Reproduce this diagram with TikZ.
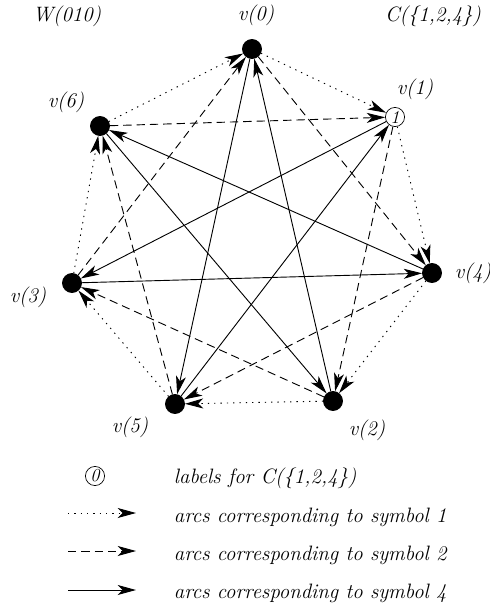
\documentclass[tikz,border=0pt]{standalone}
\usetikzlibrary{arrows.meta}
\begin{document}
\begin{tikzpicture}[x=0.6pt,y=-0.6pt]
\tikzstyle{sommet} = [draw, circle, fill=black, inner sep=0pt, minimum size=11.5pt];
\tikzstyle{marque} = [draw, circle, fill=white, inner sep=0pt, minimum size=11.5pt, font=\fontsize{11}{13}\selectfont\itshape];
\tikzstyle{etiq} = [font=\fontsize{12.5}{15}\selectfont\itshape];
\tikzstyle{arc} = [-{Stealth[length=11pt,width=6pt,inset=3pt]}, line width=0.55pt];
\tikzstyle{pointille} = [dash pattern=on 0.8pt off 3pt];
\tikzstyle{tirete} = [dash pattern=on 5pt off 3pt];
\useasboundingbox (0,0) rectangle (489,609);

% les sommets, dans l'ordre de C({1,2,4})
\node[sommet] (c0) at (252,49) {};
\node[marque] (c1) at (395,117) {1};
\node[sommet] (c2) at (432,273) {};
\node[sommet] (c3) at (333,401) {};
\node[sommet] (c4) at (175,404) {};
\node[sommet] (c5) at (72,283) {};
\node[sommet] (c6) at (100,126) {};

\node[etiq] (n0) at (256,15) {v(0)};
\node[etiq] (n1) at (415,89) {v(1)};
\node[etiq] (n4) at (473,273) {v(4)};
\node[etiq] (n2) at (367,430) {v(2)};
\node[etiq] (n5) at (130,427) {v(5)};
\node[etiq] (n3) at (28,297) {v(3)};
\node[etiq] (n6) at (66,102) {v(6)};

\node[etiq] (w) at (67,16) {W(010)};
\node[etiq] (c) at (433,16) {C(\{1,2,4\})};

% symbole 1
\draw[arc, pointille] (c0) -- (c1);
\draw[arc, pointille] (c1) -- (c2);
\draw[arc, pointille] (c2) -- (c3);
\draw[arc, pointille] (c3) -- (c4);
\draw[arc, pointille] (c4) -- (c5);
\draw[arc, pointille] (c5) -- (c6);
\draw[arc, pointille] (c6) -- (c0);
% symbole 2
\draw[arc, tirete] (c0) -- (c2);
\draw[arc, tirete] (c1) -- (c3);
\draw[arc, tirete] (c2) -- (c4);
\draw[arc, tirete] (c3) -- (c5);
\draw[arc, tirete] (c4) -- (c6);
\draw[arc, tirete] (c5) -- (c0);
\draw[arc, tirete] (c6) -- (c1);
% symbole 4
\draw[arc] (c0) -- (c4);
\draw[arc] (c1) -- (c5);
\draw[arc] (c2) -- (c6);
\draw[arc] (c3) -- (c0);
\draw[arc] (c4) -- (c1);
\draw[arc] (c5) -- (c2);
\draw[arc] (c6) -- (c3);

% legende
\node[marque] (m0) at (95,476) {0};
\node[etiq, anchor=west] (t0) at (168,478) {labels for C(\{1,2,4\})};
\coordinate (a1) at (68,513);
\coordinate (b1) at (136,513);
\coordinate (a2) at (68,551);
\coordinate (b2) at (136,551);
\coordinate (a3) at (68,590);
\coordinate (b3) at (136,590);
\draw[arc, pointille] (a1) -- (b1);
\draw[arc, tirete] (a2) -- (b2);
\draw[arc] (a3) -- (b3);
\node[etiq, anchor=west] (t1) at (168,517) {arcs corresponding to symbol 1};
\node[etiq, anchor=west] (t2) at (168,555) {arcs corresponding to symbol 2};
\node[etiq, anchor=west] (t3) at (168,593) {arcs corresponding to symbol 4};
\end{tikzpicture}
\end{document}
